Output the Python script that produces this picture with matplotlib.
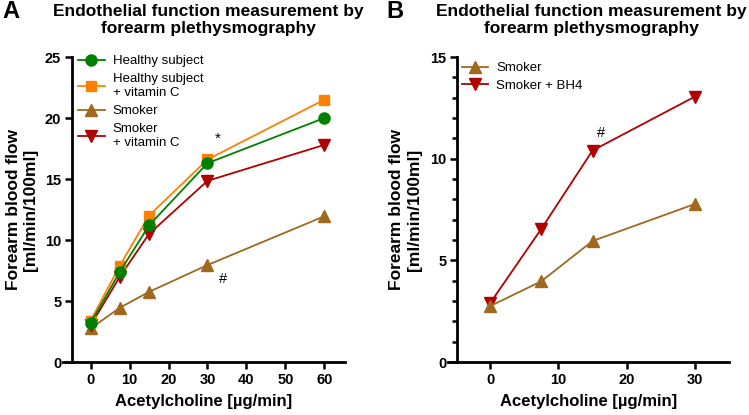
"""Endothelial function by forearm plethysmography, two panels."""

import matplotlib

matplotlib.use("Agg")

import matplotlib.pyplot as plt
from matplotlib.ticker import MultipleLocator

plt.rcParams["font.family"] = ["Liberation Sans", "DejaVu Sans"]

# panel A
dose_a = [0, 7.5, 15, 30, 60]
healthy = [3.2, 7.4, 11.2, 16.3, 20.0]
healthy_vitc = [3.4, 7.9, 12.0, 16.6, 21.5]
smoker_a = [2.75, 4.45, 5.75, 7.95, 11.95]
smoker_vitc = [3.0, 7.0, 10.5, 14.85, 17.8]
xticks_a = [0, 10, 20, 30, 40, 50, 60]

# panel B
dose_b = [0, 7.5, 15, 30]
smoker_b = [2.75, 3.97, 5.95, 7.77]
smoker_bh4 = [2.9, 6.55, 10.4, 13.05]
xticks_b = [0, 10, 20, 30]

GREEN = "#008000"
ORANGE = "#FF8000"
BROWN = "#A0681E"
RED = "#B00000"

TITLE = "Endothelial function measurement by\nforearm plethysmography"
YLABEL = "Forearm blood flow\n[ml/min/100ml]"
XLABEL = "Acetylcholine [µg/min]"


def style_axes(ax, spine_x):
    ax.spines["top"].set_visible(False)
    ax.spines["right"].set_visible(False)
    ax.spines["left"].set_position(("data", spine_x))
    for side in ("left", "bottom"):
        ax.spines[side].set_linewidth(2.0)
    ax.tick_params(width=1.8, length=5, labelsize=10.5, pad=3)
    ax.tick_params(which="minor", width=1.8, length=3.5)
    for label in ax.get_xticklabels() + ax.get_yticklabels():
        label.set_fontweight("bold")
    ax.set_xlabel(XLABEL, fontsize=12, fontweight="bold", labelpad=5)


def plot_series(ax, x, y, color, marker, label, ms=8):
    ax.plot(x, y, color=color, marker=marker, markersize=ms, linewidth=1.3,
            label=label, clip_on=False)


fig = plt.figure(figsize=(7.49, 4.15), dpi=100)
ax_a = fig.add_axes([0.0841, 0.1277, 0.3765, 0.7349])
ax_b = fig.add_axes([0.598, 0.1277, 0.3752, 0.7349])

plot_series(ax_a, dose_a, smoker_a, BROWN, "^", "Smoker")
plot_series(ax_a, dose_a, smoker_vitc, RED, "v", "Smoker\n+ vitamin C")
plot_series(ax_a, dose_a, healthy_vitc, ORANGE, "s", "Healthy subject\n+ vitamin C", ms=7.5)
plot_series(ax_a, dose_a, healthy, GREEN, "o", "Healthy subject")

ax_a.set_xlim(-7.1, 65.3)
ax_a.set_ylim(0, 25)
ax_a.set_xticks(xticks_a)
ax_a.yaxis.set_major_locator(MultipleLocator(5))
style_axes(ax_a, -4.7)
ax_a.set_ylabel(YLABEL, fontsize=12.5, fontweight="bold", labelpad=5)
ax_a.text(32.7, 18.3, "*", fontsize=11, ha="center", va="center")
ax_a.text(34, 6.8, "#", fontsize=10.5, ha="center", va="center")

handles, labels = ax_a.get_legend_handles_labels()
order = [3, 2, 0, 1]
ax_a.legend([handles[i] for i in order], [labels[i] for i in order],
            loc="upper left", bbox_to_anchor=(0.012, 1.045), frameon=False,
            fontsize=9.5, handlelength=2.0, handletextpad=0.6,
            labelspacing=0.45)

plot_series(ax_b, dose_b, smoker_bh4, RED, "v", "Smoker + BH4")
plot_series(ax_b, dose_b, smoker_b, BROWN, "^", "Smoker")

ax_b.set_xlim(-6.2, 35)
ax_b.set_ylim(0, 15)
ax_b.set_xticks(xticks_b)
ax_b.yaxis.set_major_locator(MultipleLocator(5))
ax_b.yaxis.set_minor_locator(MultipleLocator(1))
style_axes(ax_b, -4.8)
ax_b.set_ylabel(YLABEL, fontsize=12.5, fontweight="bold", labelpad=6)
ax_b.text(16.2, 11.25, "#", fontsize=10.5, ha="center", va="center")

handles, labels = ax_b.get_legend_handles_labels()
ax_b.legend(handles[::-1], labels[::-1], loc="upper left",
            bbox_to_anchor=(0.008, 1.022), frameon=False, fontsize=9.5,
            handlelength=2.0, handletextpad=0.6, labelspacing=0.4)

fig.text(208 / 749, 1 - 20 / 415, TITLE, ha="center", va="center",
         fontsize=12.5, fontweight="bold", linespacing=1.2)
fig.text(591 / 749, 1 - 20 / 415, TITLE, ha="center", va="center",
         fontsize=12.5, fontweight="bold", linespacing=1.2)
fig.text(2 / 749, 1 - 11 / 415, "A", ha="left", va="center",
         fontsize=17, fontweight="bold")
fig.text(386 / 749, 1 - 11 / 415, "B", ha="left", va="center",
         fontsize=17, fontweight="bold")

fig.savefig("out.png", dpi=100)
